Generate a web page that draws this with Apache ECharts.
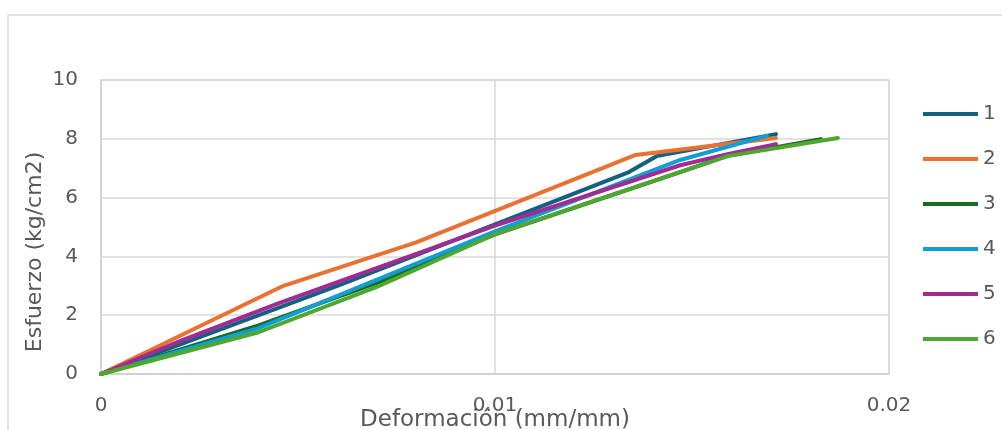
<!DOCTYPE html>
<html>
<head>
<meta charset="utf-8">
<script src="https://cdn.jsdelivr.net/npm/echarts@6/dist/echarts.min.js"></script>
<style>
html,body{margin:0;padding:0;background:#fff;}
#c{width:1002px;height:430px;}
</style>
</head>
<body>
<div id="c"></div>
<script>
// Data
const seriesNames = ['1', '2', '3', '4', '5', '6'];
const strain1 = [0, 0.006, 0.0134, 0.0141, 0.01713];
const stress1 = [0, 3.0, 6.87, 7.41, 8.16];
const strain2 = [0, 0.00463, 0.008, 0.01357, 0.01713];
const stress2 = [0, 3.0, 4.48, 7.45, 8.03];
const strain3 = [0, 0.004, 0.007, 0.01, 0.0147, 0.0159, 0.01827];
const stress3 = [0, 1.65, 3.1, 4.75, 6.87, 7.42, 7.99];
const strain4 = [0, 0.004, 0.01, 0.0147, 0.0169];
const stress4 = [0, 1.56, 4.85, 7.28, 8.1];
const strain5 = [0, 0.002, 0.0045, 0.01, 0.0147, 0.0159, 0.01713];
const stress5 = [0, 1.12, 2.4, 5.05, 7.1, 7.48, 7.82];
const strain6 = [0, 0.004, 0.007, 0.01, 0.0159, 0.0187];
const stress6 = [0, 1.42, 2.96, 4.76, 7.41, 8.03];
const xTicks = [0, 0.01, 0.02];
const yTicks = [0, 2, 4, 6, 8, 10];

const strains = [strain1, strain2, strain3, strain4, strain5, strain6];
const stresses = [stress1, stress2, stress3, stress4, stress5, stress6];
const colors = ['#156082', '#E97132', '#196B24', '#0F9ED5', '#A02B93', '#4EA72E'];

const FONT = '"DejaVu Sans", sans-serif';
const TXT = '#595959';

const series = seriesNames.map((n, i) => ({
  name: n,
  type: 'line',
  symbol: 'none',
  data: strains[i].map((x, j) => [x, stresses[i][j]]),
  lineStyle: { width: 4, color: colors[i], cap: 'round', join: 'round' },
  itemStyle: { color: colors[i] },
  emphasis: { disabled: true },
  z: 2 + i
}));

const chart = echarts.init(document.getElementById('c'), null, { renderer: 'canvas' });
chart.setOption({
  animation: false,
  backgroundColor: '#ffffff',
  textStyle: { fontFamily: FONT },
  grid: {
    left: 101, top: 80, right: 113, bottom: 56,
    containLabel: false, outerBoundsMode: 'none',
    show: true, borderColor: '#d9d9d9', borderWidth: 1.5, backgroundColor: 'transparent'
  },
  graphic: [{
    type: 'rect', z: -1, silent: true,
    shape: { x: 8, y: 15, width: 1100, height: 600 },
    style: { fill: 'none', stroke: '#d9d9d9', lineWidth: 1.5 }
  }],
  legend: {
    orient: 'vertical',
    left: 918, top: 99,
    itemWidth: 55, itemHeight: 20, itemGap: 25,
    data: seriesNames.map((n, i) => ({ name: n, icon: 'path://M0,0 L55,0 L55,4 L0,4 Z', itemStyle: { color: colors[i] } })),
    textStyle: { color: TXT, fontSize: 20, fontFamily: FONT, lineHeight: 20 }
  },
  xAxis: {
    type: 'value', min: xTicks[0], max: xTicks[xTicks.length - 1], interval: 0.01,
    name: 'Deformación (mm/mm)', nameLocation: 'middle', nameGap: 35, nameMoveOverlap: false,
    nameTextStyle: { color: TXT, fontSize: 23, fontFamily: FONT },
    axisLine: { show: true, lineStyle: { color: '#d0d0d0', width: 1.5 } },
    axisTick: { show: false },
    axisLabel: { color: TXT, fontSize: 20, fontFamily: FONT, margin: 22,
      formatter: v => (xTicks.indexOf(+v.toFixed(4)) >= 0 ? String(+v.toFixed(4)) : '') },
    splitLine: { show: true, lineStyle: { color: '#d9d9d9', width: 1.5 } }
  },
  yAxis: {
    type: 'value', min: yTicks[0], max: yTicks[yTicks.length - 1], interval: 2,
    name: 'Esfuerzo (kg/cm2)', nameLocation: 'middle', nameGap: 55, nameMoveOverlap: false,
    nameTextStyle: { color: TXT, fontSize: 22, fontFamily: FONT, padding: [0, 50, 0, 0] },
    axisLine: { show: true, lineStyle: { color: '#d0d0d0', width: 1.5 } },
    axisTick: { show: false },
    axisLabel: { color: TXT, fontSize: 20, fontFamily: FONT, margin: 23 },
    splitLine: { show: true, lineStyle: { color: '#d9d9d9', width: 1.5 } }
  },
  series: series
});
</script>
</body>
</html>
